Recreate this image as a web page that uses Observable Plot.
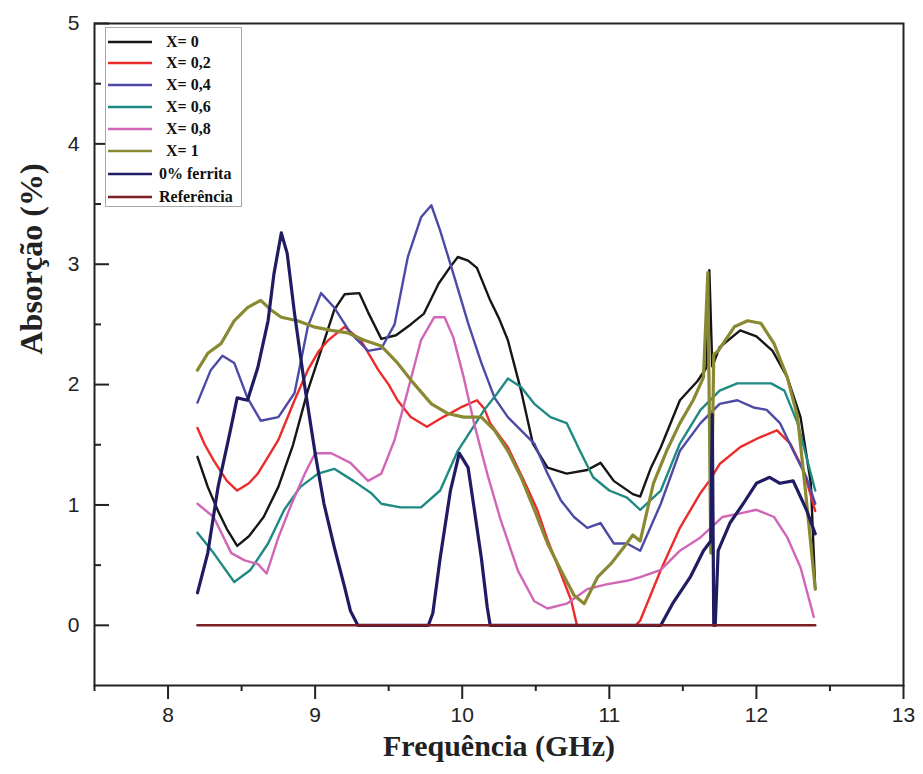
<!DOCTYPE html>
<html>
<head>
<meta charset="utf-8">
<script src="https://cdn.jsdelivr.net/npm/d3@7"></script>
<script src="https://cdn.jsdelivr.net/npm/@observablehq/plot@0.6"></script>
<style>
  body { margin: 0; background: #fff; }
  #wrap { position: relative; width: 923px; height: 774px; }
  #legend { position: absolute; left: 105px; top: 27px; width: 137px; height: 180px;
    border: 1px solid #a8a8a8; background: #fff; box-sizing: border-box;
    font-family: "Liberation Serif", "Times New Roman", serif; font-weight: bold; font-size: 16px; color: #111; }
  .row { position: absolute; left: 0; height: 20px; display: flex; align-items: center; white-space: nowrap; }
  .row svg { width: 46px; height: 8px; margin-left: 2px; }
</style>
</head>
<body>
<div id="wrap"><div id="legend"></div></div>
<script>
// ---- data (frequency GHz, absorption %) ----
const seriesNames = ["X= 0", "X= 0,2", "X= 0,4", "X= 0,6", "X= 0,8", "X= 1", "0% ferrita", "Referência"];
const seriesColors = ["#161616", "#ec2b2b", "#4c4aa6", "#1f8a83", "#d266b6", "#8a8933", "#1f1c63", "#7b1f25"];

const x0 = [[8.20,1.40],[8.27,1.15],[8.34,0.95],[8.40,0.80],[8.47,0.66],[8.55,0.74],[8.65,0.90],[8.75,1.15],[8.85,1.50],[8.95,1.95],[9.05,2.32],[9.13,2.62],[9.20,2.75],[9.30,2.76],[9.36,2.60],[9.45,2.38],[9.55,2.41],[9.65,2.50],[9.74,2.59],[9.84,2.84],[9.92,2.98],[9.97,3.06],[10.04,3.03],[10.10,2.97],[10.19,2.70],[10.25,2.55],[10.31,2.37],[10.40,1.95],[10.48,1.51],[10.58,1.31],[10.71,1.26],[10.85,1.29],[10.94,1.35],[11.03,1.20],[11.16,1.09],[11.21,1.07],[11.28,1.30],[11.35,1.48],[11.48,1.87],[11.60,2.03],[11.66,2.14],[11.68,2.95],[11.70,2.15],[11.75,2.31],[11.89,2.45],[12.00,2.40],[12.11,2.28],[12.21,2.06],[12.30,1.73],[12.37,1.18],[12.40,0.30]];
const x02 = [[8.20,1.64],[8.25,1.50],[8.31,1.37],[8.40,1.20],[8.47,1.12],[8.55,1.18],[8.61,1.26],[8.68,1.40],[8.75,1.54],[8.86,1.87],[8.95,2.12],[9.02,2.27],[9.09,2.37],[9.20,2.48],[9.31,2.37],[9.43,2.12],[9.50,2.00],[9.56,1.87],[9.65,1.73],[9.76,1.65],[9.87,1.73],[9.99,1.81],[10.10,1.87],[10.15,1.80],[10.19,1.68],[10.31,1.48],[10.42,1.20],[10.51,0.96],[10.58,0.71],[10.67,0.43],[10.74,0.21],[10.78,0.00],[11.18,0.00],[11.21,0.04],[11.35,0.46],[11.48,0.81],[11.62,1.10],[11.68,1.20],[11.75,1.34],[11.89,1.48],[12.02,1.56],[12.14,1.62],[12.23,1.51],[12.32,1.29],[12.40,0.95]];
const x04 = [[8.20,1.85],[8.29,2.12],[8.37,2.24],[8.45,2.18],[8.54,1.89],[8.63,1.70],[8.75,1.73],[8.86,1.93],[8.95,2.48],[9.04,2.76],[9.13,2.64],[9.24,2.43],[9.36,2.28],[9.45,2.30],[9.54,2.50],[9.63,3.06],[9.72,3.39],[9.79,3.49],[9.85,3.28],[9.94,2.92],[10.04,2.51],[10.13,2.18],[10.22,1.89],[10.31,1.73],[10.40,1.62],[10.49,1.51],[10.58,1.26],[10.67,1.04],[10.76,0.90],[10.85,0.81],[10.94,0.85],[11.03,0.68],[11.12,0.68],[11.21,0.62],[11.35,1.01],[11.48,1.45],[11.62,1.68],[11.75,1.84],[11.87,1.87],[11.98,1.81],[12.07,1.79],[12.16,1.68],[12.25,1.45],[12.34,1.23],[12.40,1.01]];
const x06 = [[8.20,0.77],[8.31,0.60],[8.45,0.36],[8.56,0.46],[8.68,0.68],[8.79,0.96],[8.90,1.15],[9.02,1.26],[9.13,1.30],[9.26,1.20],[9.38,1.10],[9.45,1.01],[9.58,0.98],[9.72,0.98],[9.85,1.12],[9.97,1.45],[10.06,1.62],[10.15,1.79],[10.24,1.93],[10.31,2.05],[10.40,1.98],[10.49,1.84],[10.60,1.73],[10.71,1.68],[10.80,1.45],[10.89,1.23],[11.00,1.12],[11.12,1.06],[11.21,0.96],[11.35,1.12],[11.48,1.51],[11.62,1.79],[11.75,1.95],[11.87,2.01],[11.98,2.01],[12.10,2.01],[12.19,1.95],[12.28,1.68],[12.34,1.40],[12.40,1.12]];
const x08 = [[8.20,1.01],[8.31,0.90],[8.43,0.60],[8.52,0.54],[8.61,0.51],[8.67,0.43],[8.75,0.73],[8.84,1.01],[8.93,1.26],[9.00,1.43],[9.11,1.43],[9.24,1.35],[9.36,1.20],[9.45,1.26],[9.54,1.54],[9.63,1.95],[9.72,2.37],[9.81,2.56],[9.88,2.56],[9.94,2.39],[10.01,2.06],[10.08,1.68],[10.17,1.26],[10.26,0.88],[10.38,0.45],[10.49,0.20],[10.58,0.14],[10.71,0.18],[10.85,0.30],[10.98,0.34],[11.12,0.37],[11.21,0.40],[11.35,0.46],[11.48,0.62],[11.62,0.73],[11.77,0.90],[11.89,0.93],[12.00,0.96],[12.12,0.90],[12.21,0.73],[12.30,0.48],[12.39,0.07]];
const x1 = [[8.20,2.12],[8.27,2.26],[8.36,2.34],[8.45,2.53],[8.54,2.64],[8.63,2.70],[8.70,2.62],[8.77,2.56],[8.88,2.53],[8.99,2.48],[9.11,2.45],[9.22,2.43],[9.33,2.37],[9.45,2.32],[9.56,2.18],[9.67,2.01],[9.79,1.84],[9.90,1.76],[10.01,1.73],[10.13,1.73],[10.22,1.62],[10.31,1.45],[10.40,1.23],[10.49,0.96],[10.58,0.68],[10.67,0.46],[10.76,0.25],[10.83,0.18],[10.92,0.40],[11.01,0.51],[11.10,0.65],[11.16,0.75],[11.21,0.70],[11.30,1.18],[11.39,1.45],[11.48,1.68],[11.57,1.87],[11.64,2.06],[11.67,2.93],[11.69,0.60],[11.71,2.25],[11.74,2.28],[11.85,2.48],[11.94,2.53],[12.03,2.51],[12.12,2.34],[12.21,2.06],[12.28,1.73],[12.34,1.04],[12.40,0.30]];
const ferrita = [[8.20,0.27],[8.27,0.60],[8.34,1.15],[8.41,1.54],[8.47,1.89],[8.54,1.87],[8.61,2.14],[8.68,2.53],[8.72,2.92],[8.77,3.26],[8.81,3.09],[8.86,2.59],[8.93,1.98],[9.00,1.43],[9.06,1.01],[9.13,0.65],[9.20,0.32],[9.24,0.12],[9.29,0.00],[9.77,0.00],[9.80,0.10],[9.85,0.56],[9.92,1.12],[9.98,1.43],[10.04,1.31],[10.08,0.98],[10.13,0.56],[10.17,0.15],[10.19,0.00],[11.35,0.00],[11.43,0.18],[11.55,0.40],[11.64,0.62],[11.69,0.70],[11.70,1.75],[11.71,0.00],[11.72,0.00],[11.74,0.62],[11.82,0.85],[11.91,1.01],[12.00,1.18],[12.09,1.23],[12.16,1.18],[12.25,1.20],[12.34,0.96],[12.40,0.76]];
const referencia = [[8.20,0],[12.40,0]];

const xMajor = [8, 9, 10, 11, 12, 13];
const xMinor = [7.5, 8.5, 9.5, 10.5, 11.5, 12.5];
const yMajor = [0, 1, 2, 3, 4, 5];
const yMinor = [0.5, 1.5, 2.5, 3.5, 4.5];
const xTitle = "Frequência (GHz)";
const yTitle = "Absorção (%)";

const allSeries = [x0, x02, x04, x06, x08, x1, ferrita, referencia];
const widths = [2.4, 2.4, 2.4, 2.4, 2.4, 3.2, 3.2, 2.4];

const W = 923, H = 774;
const mL = 94, mR = 20, mT = 23, mB = 89;
const innerW = W - mL - mR;

const lineMarks = allSeries.map((s, i) =>
  Plot.line(s, {x: d => d[0], y: d => d[1], stroke: seriesColors[i], strokeWidth: widths[i], strokeLinejoin: "round"})
);

const serif = "'Liberation Serif', 'Times New Roman', serif";

const chart = Plot.plot({
  width: W, height: H,
  marginLeft: mL, marginRight: mR, marginTop: mT, marginBottom: mB,
  x: {domain: [7.5, 13]},
  y: {domain: [-0.5, 5]},
  style: {fontFamily: "'Liberation Sans', Arial, sans-serif", color: "#222", background: "#fff"},
  marks: [
    ...lineMarks,
    Plot.axisX(xMajor, {tickSize: 14, tickPadding: 8, fontSize: 21, strokeWidth: 2, stroke: "#222", label: null, tickFormat: d => String(d)}),
    Plot.axisX(xMinor, {tickSize: 6, strokeWidth: 2, stroke: "#222", label: null, tickFormat: () => ""}),
    Plot.axisY(yMajor, {tickSize: 0, tickPadding: 15, fontSize: 21, label: null, tickFormat: d => String(d)}),
    Plot.tickY(yMajor, {y: d => d, stroke: "#222", strokeWidth: 2, insetRight: innerW - 15}),
    Plot.tickY(yMinor, {y: d => d, stroke: "#222", strokeWidth: 2, insetRight: innerW - 7}),
    Plot.frame({stroke: "#222", strokeWidth: 2}),
    Plot.text([xTitle], {text: d => d, frameAnchor: "bottom", dy: 70, fontSize: 30, fontWeight: "bold", fontFamily: serif, fill: "#222"}),
    Plot.text([yTitle], {text: d => d, frameAnchor: "left", dx: -63, rotate: -90, fontSize: 32, fontWeight: "bold", fontFamily: serif, fill: "#222"})
  ]
});
document.getElementById("wrap").prepend(chart);

// legend
const legend = document.getElementById("legend");
const rowTops = [4, 25, 47, 69, 91, 113, 136, 159];
seriesNames.forEach((name, i) => {
  const row = document.createElement("div");
  row.className = "row";
  row.style.top = rowTops[i] + "px";
  const indent = i < 6 ? 12 : 5;
  row.innerHTML = `<svg viewBox="0 0 46 8"><line x1="0" y1="4" x2="44" y2="4" stroke="${seriesColors[i]}" stroke-width="2.5"/></svg><span style="margin-left:${indent}px">${name}</span>`;
  legend.appendChild(row);
});
</script>
</body>
</html>
